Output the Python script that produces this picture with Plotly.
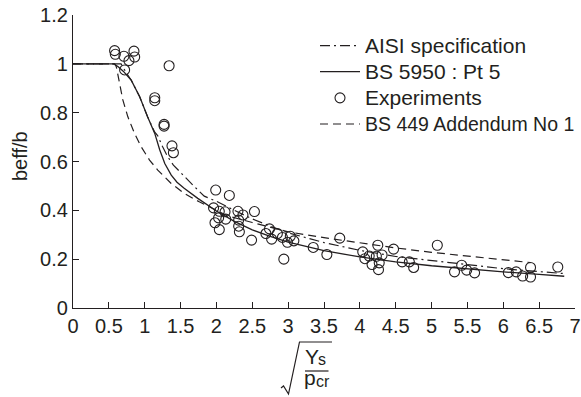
import plotly.graph_objects as go

# ---------------- data ----------------
aisi_x = [0, 0.67, 0.75, 0.81, 0.93, 1.04, 1.14, 1.18, 1.25, 1.32, 1.4, 1.51, 1.6, 1.69,
          1.83, 2.0, 2.25, 2.5, 2.75, 3.0, 3.5, 4.0, 4.5, 5.0, 5.5, 6.0, 6.5, 6.85]
aisi_y = [1.0, 1.0, 0.96, 0.934, 0.865, 0.783, 0.72, 0.706, 0.66, 0.62, 0.585, 0.551, 0.524,
          0.498, 0.458, 0.437, 0.40, 0.365, 0.335, 0.308, 0.268, 0.236, 0.211, 0.194,
          0.176, 0.161, 0.149, 0.141]

bs5950_x = [0, 0.57, 0.63, 0.7, 0.81, 0.93, 1.04, 1.14, 1.21, 1.28, 1.37, 1.45, 1.55,
            1.74, 2.0, 2.25, 2.5, 2.75, 3.0, 3.5, 4.0, 4.5, 5.0, 5.5, 6.0, 6.5, 6.85]
bs5950_y = [1.0, 1.0, 0.988, 0.97, 0.934, 0.865, 0.783, 0.715, 0.647, 0.592, 0.544, 0.515,
            0.49, 0.449, 0.397, 0.355, 0.32, 0.293, 0.27, 0.235, 0.209, 0.189, 0.173,
            0.159, 0.148, 0.138, 0.13]

bs449_x = [0, 0.58, 0.604, 0.65, 0.695, 0.765, 0.858, 0.951, 1.067, 1.182, 1.369, 1.554,
           1.76, 2.0, 2.15, 2.5, 2.75, 3.0, 3.5, 4.0, 4.5, 5.0, 5.5, 6.0, 6.38]
bs449_y = [1.0, 1.0, 0.988, 0.92, 0.852, 0.783, 0.715, 0.66, 0.606, 0.565, 0.51, 0.469,
           0.435, 0.40, 0.378, 0.35, 0.33, 0.312, 0.288, 0.266, 0.246, 0.228, 0.212,
           0.198, 0.186]

exp_x = [0.58, 0.59, 0.71, 0.78, 0.85, 0.86, 0.72, 1.34, 1.14, 1.14, 1.27, 1.27, 1.38, 1.40,
         1.99, 2.18, 1.96, 2.04, 2.12, 2.03, 2.13, 1.98, 2.04, 2.30, 2.37, 2.31, 2.31, 2.32,
         2.53, 2.49, 2.74, 2.69, 2.77, 2.85, 2.92, 2.99, 3.03, 3.08, 2.94, 3.35, 3.54, 3.72,
         4.04, 4.07, 4.13, 4.23, 4.31, 4.25, 4.17, 4.27, 4.26, 4.47, 4.59, 4.69, 4.75, 5.08,
         5.32, 5.42, 5.49, 5.60, 6.07, 6.18, 6.27, 6.38, 6.38, 6.76]
exp_y = [1.054, 1.039, 1.031, 1.013, 1.052, 1.028, 0.975, 0.992, 0.861, 0.849, 0.752, 0.745,
         0.664, 0.636, 0.483, 0.461, 0.41, 0.396, 0.394, 0.369, 0.364, 0.349, 0.321, 0.396,
         0.381, 0.36, 0.335, 0.312, 0.395, 0.278, 0.324, 0.305, 0.282, 0.305, 0.289, 0.269,
         0.294, 0.275, 0.2, 0.248, 0.219, 0.286, 0.23, 0.202, 0.213, 0.212, 0.217, 0.257,
         0.178, 0.185, 0.157, 0.241, 0.189, 0.189, 0.166, 0.257, 0.148, 0.175, 0.155, 0.144,
         0.145, 0.148, 0.131, 0.166, 0.127, 0.168]

series_names = ["AISI specification", "BS 5950 : Pt 5", "Experiments", "BS 449 Addendum No 1"]
x_ticks = [0, 0.5, 1, 1.5, 2, 2.5, 3, 3.5, 4, 4.5, 5, 5.5, 6, 6.5, 7]
y_ticks = [0, 0.2, 0.4, 0.6, 0.8, 1, 1.2]
y_title = "beff/b"

# ---------------- layout helpers ----------------
W, H = 581, 397
ML, MR, MT, MB = 73, 6, 15, 89
PW = W - ML - MR
PH = H - MT - MB
FONT = "Liberation Sans, Arial, Helvetica, sans-serif"
INK = "#231f20"
LEG_SIZES = [21, 21, 21, 19.5]


def pxx(p):
    return (p - ML) / PW


def pxy(p):
    return (H - MB - p) / PH


def leg_name(i):
    return "<span style='font-size:%gpx'>%s</span>" % (LEG_SIZES[i], series_names[i])


fig = go.Figure()
fig.add_trace(go.Scatter(x=aisi_x, y=aisi_y, mode="lines", name=leg_name(0),
                         line=dict(color=INK, width=1.2, dash="10px,4px,2px,4px")))
fig.add_trace(go.Scatter(x=bs5950_x, y=bs5950_y, mode="lines", name=leg_name(1),
                         line=dict(color=INK, width=1.3)))
fig.add_trace(go.Scatter(x=exp_x, y=exp_y, mode="markers", name=leg_name(2),
                         marker=dict(symbol="circle-open", size=10, color=INK,
                                     line=dict(width=1.1, color=INK))))
fig.add_trace(go.Scatter(x=bs449_x, y=bs449_y, mode="lines", name=leg_name(3),
                         line=dict(color=INK, width=1.2, dash="8px,5px")))

# x-axis title: sqrt(Ys / pcr)
shapes = [
    dict(type="path", xref="paper", yref="paper",
         path="M %f,%f L %f,%f L %f,%f L %f,%f L %f,%f" % (
             pxx(281), pxy(388), pxx(283.5), pxy(386), pxx(288.5), pxy(394),
             pxx(299.5), pxy(342), pxx(332), pxy(342)),
         line=dict(color=INK, width=1.2)),
    dict(type="line", xref="paper", yref="paper",
         x0=pxx(305), x1=pxx(328.5), y0=pxy(371), y1=pxy(371),
         line=dict(color=INK, width=1.2)),
]

annotations = [
    dict(text="Y", x=pxx(311.7), y=pxy(356), font=dict(size=21)),
    dict(text="s", x=pxx(321.7), y=pxy(359.4), font=dict(size=16)),
    dict(text="p", x=pxx(310), y=pxy(377.6), font=dict(size=21)),
    dict(text="cr", x=pxx(322.8), y=pxy(381.7), font=dict(size=16)),
    dict(text=y_title, x=pxx(20), y=pxy(156), textangle=-90, font=dict(size=20)),
]
for a in annotations:
    a.update(xref="paper", yref="paper", showarrow=False, xanchor="center", yanchor="middle")
    a["font"].update(family=FONT, color=INK)

axis_common = dict(showgrid=False, zeroline=False, showline=True, linecolor=INK, linewidth=1.3,
                   ticks="inside", ticklen=6, tickwidth=1.2, tickcolor=INK,
                   ticklabeloverflow="allow",
                   tickfont=dict(family=FONT, size=20, color=INK))

fig.update_xaxes(range=[0, 7], tickmode="array", tickvals=x_ticks,
                 ticktext=[("%g" % v) for v in x_ticks], **axis_common)
fig.update_yaxes(range=[0, 1.2], tickmode="array", tickvals=y_ticks,
                 ticktext=[("%g" % v) for v in y_ticks], **axis_common)

fig.update_layout(
    width=W, height=H,
    margin=dict(l=ML, r=MR, t=MT, b=MB, autoexpand=False),
    paper_bgcolor="white", plot_bgcolor="white",
    font=dict(family=FONT, color=INK),
    showlegend=True,
    legend=dict(x=pxx(315), y=pxy(27.5), xanchor="left", yanchor="top",
                bgcolor="rgba(0,0,0,0)", font=dict(family=FONT, size=17.8, color=INK),
                traceorder="normal", itemwidth=40),
    shapes=shapes,
    annotations=annotations,
)

fig.write_html("out.html", config={"displayModeBar": False},
               post_script="document.body.style.margin='0';document.body.style.overflow='hidden';")
